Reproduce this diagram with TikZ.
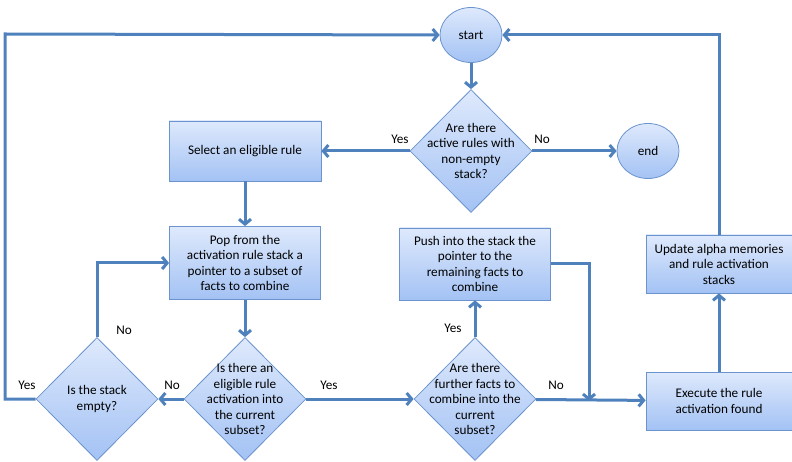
\documentclass[tikz,border=0pt]{standalone}
\usepackage{fontspec}
\setmainfont{Carlito}
\usepackage{xcolor}
\usepackage{tikz}
\usetikzlibrary{shapes.geometric,arrows.meta}
\definecolor{linkblue}{RGB}{79, 129, 189}
\definecolor{filltop}{RGB}{222, 233, 252}
\definecolor{fillbottom}{RGB}{163, 194, 244}
\definecolor{edgeblue}{RGB}{108, 148, 204}

\begin{document}
\begin{tikzpicture}[x=1pt,y=-1pt,
    font=\fontsize{13.2}{15.5}\selectfont,
    shade/.style={draw=edgeblue,line width=0.8pt,top color=filltop,bottom color=fillbottom,align=center},
    process/.style={shade,rectangle,inner sep=2pt},
    decision/.style={shade,diamond,minimum width=122pt,minimum height=123pt,inner sep=-20pt},
    terminal/.style={shade,ellipse,minimum width=62pt,minimum height=55pt,inner sep=0pt},
    link/.style={draw=linkblue,line width=3pt,-{Straight Barb[length=5pt,width=12pt]}},
    tag/.style={font=\fontsize{13.2}{15}\selectfont}]
    \useasboundingbox (0,0) rectangle (792,462);
    % nodes
    \node[terminal] (start) at (471,35) {start};
    \node[decision] (rules) at (471,151) {Are there\\active rules with\\non-empty\\stack?};
    \node[terminal] (end) at (648,151) {end};
    \node[process,minimum width=152pt,minimum height=60pt] (select) at (245,151) {Select an eligible rule};
    \node[process,minimum width=151pt,minimum height=73pt] (pop) at (245,263) {Pop from the\\activation rule stack a\\pointer to a subset of\\facts to combine};
    \node[decision] (eligible) at (245,399) {Is there an\\eligible rule\\activation into\\the current\\subset?};
    \node[decision] (empty) at (97,399) {Is the stack\\empty?};
    \node[decision] (further) at (475,399) {Are there\\further facts to\\combine into the\\current\\subset?};
    \node[process,minimum width=151pt,minimum height=72pt] (push) at (475,264) {Push into the stack the\\pointer to the\\remaining facts to\\combine};
    \node[process,minimum width=146pt,minimum height=58pt] (exec) at (719,401) {Execute the rule\\activation found};
    \node[process,minimum width=146pt,minimum height=58pt] (update) at (719,264) {Update alpha memories\\and rule activation\\stacks};
    \coordinate (loopleft) at (5,34);
    \coordinate (join) at (589,399);
    % connectors
    \draw[link] (start) -- (rules);
    \draw[link] (rules) -- (select);
    \draw[link] (rules) -- (end);
    \draw[link] (select) -- (pop);
    \draw[link] (pop) -- (eligible);
    \draw[link] (eligible) -- (empty);
    \draw[link] (empty.north) |- (pop.west);
    \draw[link] (empty.west) -| (loopleft) -- (start.west);
    \draw[link] (eligible) -- (further);
    \draw[link] (further) -- (push);
    \draw[link] (further) -- (exec);
    \draw[link] (push.east) -| ([yshift=-2pt]join);
    \draw[link] (exec) -- (update);
    \draw[link] (update.north) |- (start.east);
    % labels
    \node[tag] (yesrules) at (400,139) {Yes};
    \node[tag] (norules) at (542,139) {No};
    \node[tag] (noempty) at (124,330) {No};
    \node[tag] (yesempty) at (27,385) {Yes};
    \node[tag] (noeligible) at (172,385) {No};
    \node[tag] (yeseligible) at (329,385) {Yes};
    \node[tag] (yesfurther) at (453,328) {Yes};
    \node[tag] (nofurther) at (556,385) {No};
\end{tikzpicture}
\end{document}
